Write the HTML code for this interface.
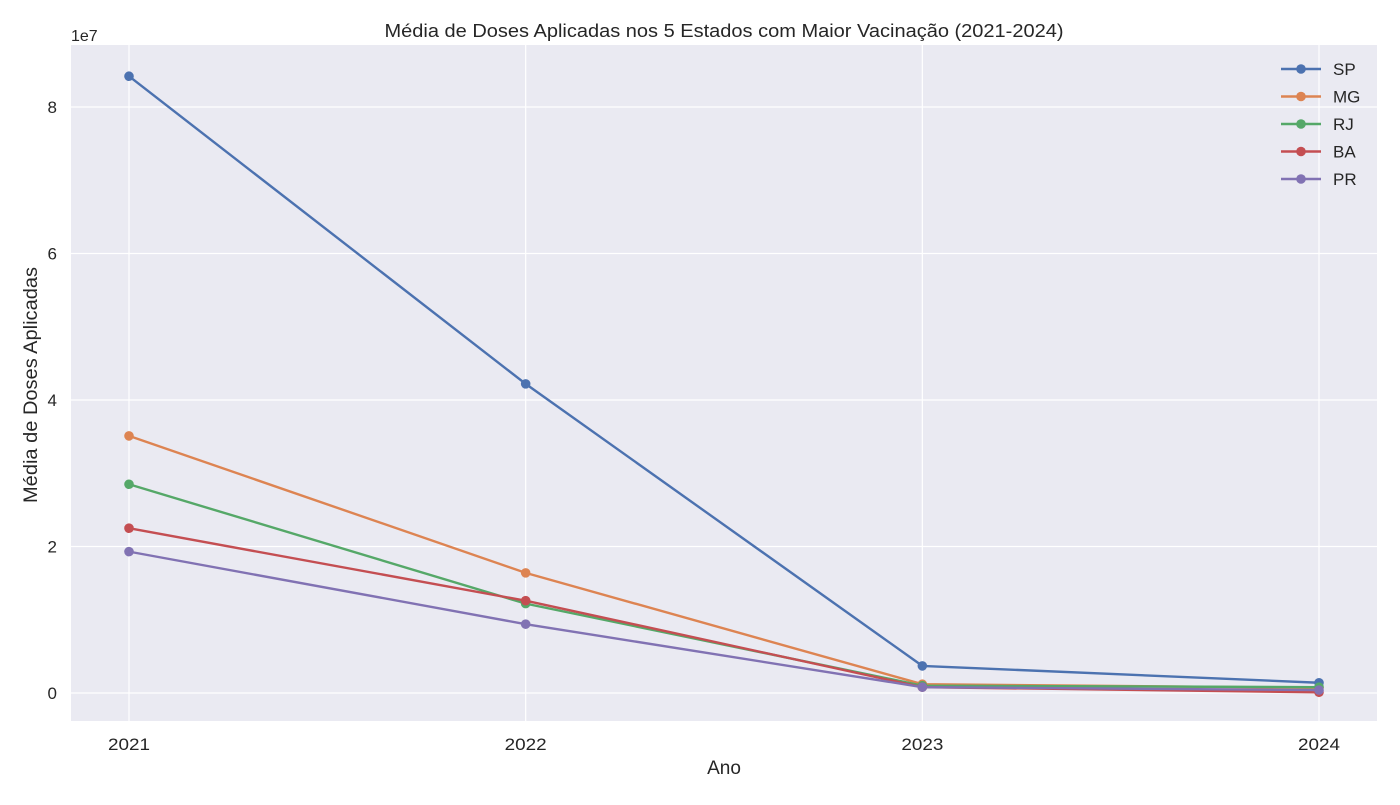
<!DOCTYPE html>
<html><head><meta charset="utf-8"><style>
body{margin:0;background:#fff;font-family:"Liberation Sans","DejaVu Sans",sans-serif;}
svg text{font-family:"Liberation Sans","DejaVu Sans",sans-serif;fill:#262626;}
</style></head><body>
<svg id="chart" width="1400" height="800" xmlns="http://www.w3.org/2000/svg">
<rect x="71" y="45" width="1306" height="676" fill="#eaeaf2"/>
<g id="grid"></g><g id="series"></g><g id="axes"></g><g id="legend"></g>
<text x="724" y="37" text-anchor="middle" font-size="18" textLength="679" lengthAdjust="spacingAndGlyphs">Média de Doses Aplicadas nos 5 Estados com Maior Vacinação (2021-2024)</text>
<text x="724" y="774" text-anchor="middle" font-size="19">Ano</text>
<text transform="translate(37,385) rotate(-90)" text-anchor="middle" font-size="19" textLength="236" lengthAdjust="spacingAndGlyphs">Média de Doses Aplicadas</text>
<text x="71" y="41" font-size="16">1e7</text>
</svg>
<script>
const years=["2021","2022","2023","2024"];
const states=["SP","MG","RJ","BA","PR"];
const colors=["#4c72b0","#dd8452","#55a868","#c44e52","#8172b3"];
const valSP=[8.42,4.22,0.37,0.14];
const valMG=[3.51,1.64,0.12,0.07];
const valRJ=[2.85,1.22,0.10,0.08];
const valBA=[2.25,1.26,0.08,0.01];
const valPR=[1.93,0.94,0.08,0.04];
const yTicks=[0,2,4,6,8];
const series=[valSP,valMG,valRJ,valBA,valPR];
const NS="http://www.w3.org/2000/svg";
function xS(i){return 129+i*(1319-129)/3;}
function yS(v){return 693-v*73.25;}
function mk(t,a,p){const e=document.createElementNS(NS,t);for(const k in a)e.setAttribute(k,a[k]);document.getElementById(p).appendChild(e);return e;}
yTicks.forEach(t=>{
 const l=mk('line',{x1:71,x2:1377,y1:yS(t),y2:yS(t),stroke:'#fff','stroke-width':1.2},'grid');
 
 
 const tx=mk('text',{x:57,y:yS(t)+6,'text-anchor':'end','font-size':17},'axes');tx.textContent=t;
 
 
});
years.forEach((y,i)=>{
 const l=mk('line',{x1:xS(i),x2:xS(i),y1:45,y2:721,stroke:'#fff','stroke-width':1.2},'grid');
 
 
 const tx=mk('text',{x:xS(i),y:750,'text-anchor':'middle','font-size':17,textLength:42,lengthAdjust:'spacingAndGlyphs'},'axes');tx.textContent=y;
 
 
});
series.forEach((s,k)=>{
 const pl=mk('polyline',{points:s.map((v,i)=>xS(i)+','+yS(v)).join(' '),fill:'none',stroke:colors[k],'stroke-width':2.4},'series');
 
 
 s.forEach((v,i)=>{
  const c=mk('circle',{cx:xS(i),cy:yS(v),r:4.8,fill:colors[k]},'series');
  
  
 });
 const ly=69+k*27.5;
 const ll=mk('line',{x1:1281,x2:1321,y1:ly,y2:ly,stroke:colors[k],'stroke-width':2.4},'legend');
 
 
 const lc=mk('circle',{cx:1301,cy:ly,r:4.8,fill:colors[k]},'legend');
 
 
 const lt=mk('text',{x:1333,y:ly+6,'font-size':17},'legend');lt.textContent=states[k];
 
 
});
</script>
</body></html>
